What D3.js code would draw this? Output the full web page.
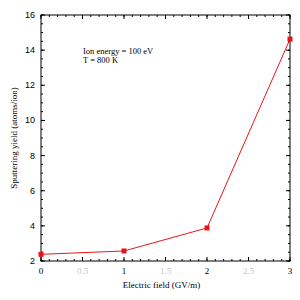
<!DOCTYPE html>
<meta charset="utf-8">
<head>
<script src="https://d3js.org/d3.v7.min.js"></script>
<style>
  body { margin: 0; background: #fff; }
</style>
</head>
<body>
<div id="my_dataviz"></div>
<script>

    // data
    var fieldValues = [0, 1, 2, 3];
    var yieldValues = [2.38, 2.57, 3.88, 14.63];
    var xMajorTicks = [0, 0.5, 1, 1.5, 2, 2.5, 3];
    var yMajorTicks = [2, 4, 6, 8, 10, 12, 14, 16];
    var noteLines = ["Ion energy = 100 eV", "T = 800 K"];

    var margin = {top: 15, right: 10, bottom: 39, left: 41},
        width = 300 - margin.left - margin.right,
        height = 300 - margin.top - margin.bottom;

    var svg = d3.select("#my_dataviz")
      .append("svg")
        .attr("width", 300)
        .attr("height", 300)
      .append("g")
        .attr("transform", "translate(" + margin.left + "," + margin.top + ")");

    var x = d3.scaleLinear().domain([0, 3]).range([0, width]);
    var y = d3.scaleLinear().domain([2, 16]).range([height, 0]);

    var xMinor = d3.range(0, 3.0001, 0.1).map(function(d) { return +d.toFixed(1); });
    var yMinor = d3.range(2, 16.0001, 0.5);

    // frame
    svg.append("rect")
      .attr("width", width).attr("height", height)
      .attr("fill", "none").attr("stroke", "#000").attr("stroke-width", 1);

    // ticks on all sides, pointing inward
    function tickLines(vals, len, horizontal) {
      var g = svg.append("g").attr("stroke", "#000").attr("stroke-width", 1);
      vals.forEach(function(v) {
        if (horizontal) {
          g.append("line").attr("x1", x(v)).attr("x2", x(v)).attr("y1", height).attr("y2", height - len);
          g.append("line").attr("x1", x(v)).attr("x2", x(v)).attr("y1", 0).attr("y2", len);
        } else {
          g.append("line").attr("y1", y(v)).attr("y2", y(v)).attr("x1", 0).attr("x2", len);
          g.append("line").attr("y1", y(v)).attr("y2", y(v)).attr("x1", width).attr("x2", width - len);
        }
      });
    }
    tickLines(xMinor, 2, true);
    tickLines(xMajorTicks, 4, true);
    tickLines(yMinor, 2, false);
    tickLines(yMajorTicks, 4, false);

    // x tick labels (serif); the half-step labels are very faint
    svg.append("g").selectAll("text")
      .data(xMajorTicks).enter().append("text")
        .attr("x", function(d) { return x(d); })
        .attr("y", height + 13)
        .attr("text-anchor", "middle")
        .style("font-family", "Liberation Serif, serif")
        .style("font-size", "9px")
        .style("fill", function(d) { return d % 1 === 0 ? "#000" : "#c4c4c4"; })
        .text(function(d) { return d; });

    // y tick labels (sans)
    svg.append("g").selectAll("text")
      .data(yMajorTicks).enter().append("text")
        .attr("x", -6)
        .attr("y", function(d) { return y(d) + 3; })
        .attr("text-anchor", "end")
        .style("font-family", "Liberation Sans, Arial, sans-serif")
        .style("font-size", "9px")
        .text(function(d) { return d; });

    // axis titles
    svg.append("text")
      .attr("x", width / 2 - 4)
      .attr("y", height + 27)
      .attr("text-anchor", "middle")
      .style("font-family", "Liberation Serif, serif")
      .style("font-size", "9px")
      .text("Electric field (GV/m)");

    svg.append("text")
      .attr("transform", "translate(-24," + (height / 2) + ")rotate(-90)")
      .attr("text-anchor", "middle")
      .style("font-family", "Liberation Serif, serif")
      .style("font-size", "9px")
      .text("Sputtering yield (atoms/ion)");

    // annotation
    svg.append("g").selectAll("text")
      .data(noteLines).enter().append("text")
        .attr("x", 42)
        .attr("y", function(d, i) { return 39 + i * 9; })
        .style("font-family", "Liberation Serif, serif")
        .style("font-size", "8.5px")
        .text(function(d) { return d; });

    // line and markers
    var pts = fieldValues.map(function(f, i) { return [f, yieldValues[i]]; });
    svg.append("path")
      .datum(pts)
      .attr("fill", "none")
      .attr("stroke", "#e8141b")
      .attr("stroke-width", 1)
      .attr("d", d3.line().x(function(d) { return x(d[0]); }).y(function(d) { return y(d[1]); }));

    svg.append("g").selectAll("rect")
      .data(pts).enter().append("rect")
        .attr("x", function(d) { return x(d[0]) - 2.5; })
        .attr("y", function(d) { return y(d[1]) - 2.5; })
        .attr("width", 5).attr("height", 5)
        .style("fill", "#e8141b");

</script>
</body>
</html>
